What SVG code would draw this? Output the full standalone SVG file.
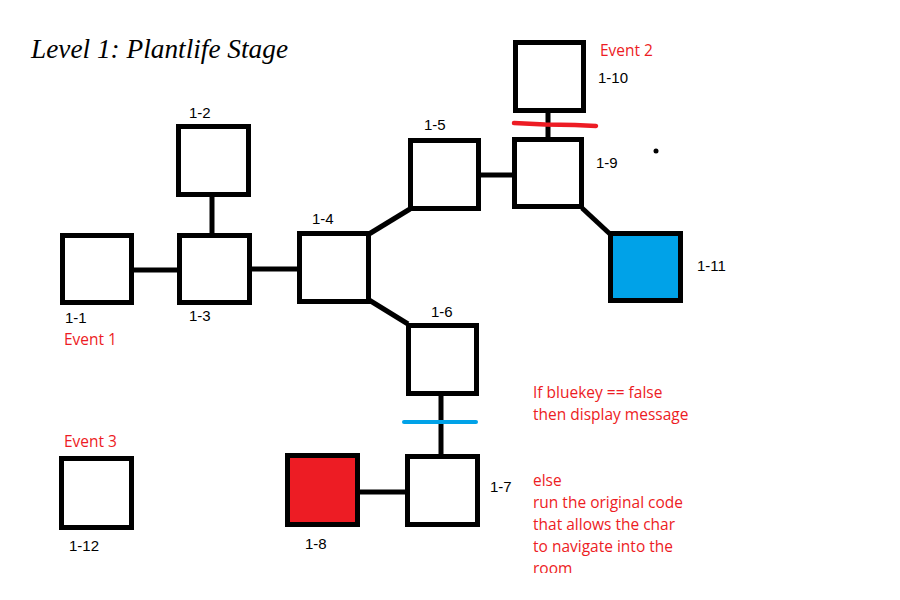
<svg xmlns="http://www.w3.org/2000/svg" width="900" height="600" viewBox="0 0 900 600">
<style>
.room{fill:#fff;stroke:#000;stroke-width:5}
.conn{stroke:#000;stroke-width:5;fill:none}
.lbl{font-family:"Liberation Sans",Arial,sans-serif;font-size:15px;fill:#000}
.red{font-family:"Open Sans","Liberation Sans",sans-serif;font-size:15.5px;fill:#ed1c24}
</style>
<defs><clipPath id="clip"><rect x="0" y="0" width="900" height="573"/></clipPath></defs>
<rect width="900" height="600" fill="#fff"/>
<text x="31" y="58" font-family="'Liberation Serif',serif" font-style="italic" font-size="27" textLength="257" lengthAdjust="spacingAndGlyphs">Level 1: Plantlife Stage</text>
<g id="connectors">
<line class="conn" x1="134" y1="270" x2="177" y2="270"/>
<line class="conn" x1="212" y1="197" x2="212" y2="233"/>
<line class="conn" x1="252" y1="269" x2="297" y2="269"/>
<line class="conn" x1="369" y1="234" x2="410" y2="209"/>
<line class="conn" x1="369" y1="300" x2="408" y2="324"/>
<line class="conn" x1="481" y1="175" x2="512" y2="175"/>
<line class="conn" x1="548" y1="113" x2="548" y2="137"/>
<line class="conn" x1="582" y1="208" x2="610" y2="234"/>
<line class="conn" x1="441" y1="396" x2="441" y2="454"/>
<line class="conn" x1="360" y1="492" x2="405" y2="492"/>
<path d="M514,123 L545,124.5 L575,125 L596,126" stroke="#ed1c24" stroke-width="4.5" stroke-linecap="round" fill="none"/>
<line x1="404" y1="422" x2="476" y2="422" stroke="#00a2e8" stroke-width="4" stroke-linecap="round"/>
</g>
<g id="n1-1"><rect class="room" x="62.5" y="235.5" width="69" height="67"/><text class="lbl" x="65" y="323">1-1</text><text class="red" x="64" y="345">Event 1</text></g>
<g id="n1-2"><rect class="room" x="178.5" y="126.5" width="70" height="68"/><text class="lbl" x="189" y="118">1-2</text></g>
<g id="n1-3"><rect class="room" x="179.5" y="235.5" width="70" height="67"/><text class="lbl" x="189" y="321">1-3</text></g>
<g id="n1-4"><rect class="room" x="299.5" y="233.5" width="69" height="68"/><text class="lbl" x="312" y="224">1-4</text></g>
<g id="n1-5"><rect class="room" x="410.5" y="140.5" width="68" height="68"/><text class="lbl" x="424" y="130">1-5</text></g>
<g id="n1-6"><rect class="room" x="408.5" y="325.5" width="68" height="68"/><text class="lbl" x="431" y="317">1-6</text></g>
<g id="n1-7"><rect class="room" x="407.5" y="456.5" width="70" height="68"/><text class="lbl" x="490" y="492">1-7</text></g>
<g id="n1-8"><rect class="room" x="287.5" y="455.5" width="70" height="69" style="fill:#ed1c24"/><text class="lbl" x="305" y="549">1-8</text></g>
<g id="n1-9"><rect class="room" x="514.5" y="139.5" width="67" height="67"/><text class="lbl" x="596" y="168">1-9</text></g>
<g id="n1-10"><rect class="room" x="515.5" y="42.5" width="68" height="68"/><text class="lbl" x="598" y="83">1-10</text><text class="red" x="600" y="56">Event 2</text></g>
<g id="n1-11"><rect class="room" x="610.5" y="233.5" width="70" height="67" style="fill:#00a2e8"/><text class="lbl" x="697" y="271">1-11</text></g>
<g id="n1-12"><rect class="room" x="61.5" y="458.5" width="70" height="69"/><text class="lbl" x="69" y="551">1-12</text><text class="red" x="64" y="447">Event 3</text></g>
<circle cx="656" cy="151" r="2.5" fill="#000"/>
<g id="note" clip-path="url(#clip)">
<text class="red" x="533" y="398">If bluekey == false</text>
<text class="red" x="533" y="420">then display message</text>
<text class="red" x="533" y="486">else</text>
<text class="red" x="533" y="508">run the original code</text>
<text class="red" x="533" y="530">that allows the char</text>
<text class="red" x="533" y="552">to navigate into the</text>
<text class="red" x="533" y="574">room</text>
</g>
</svg>
